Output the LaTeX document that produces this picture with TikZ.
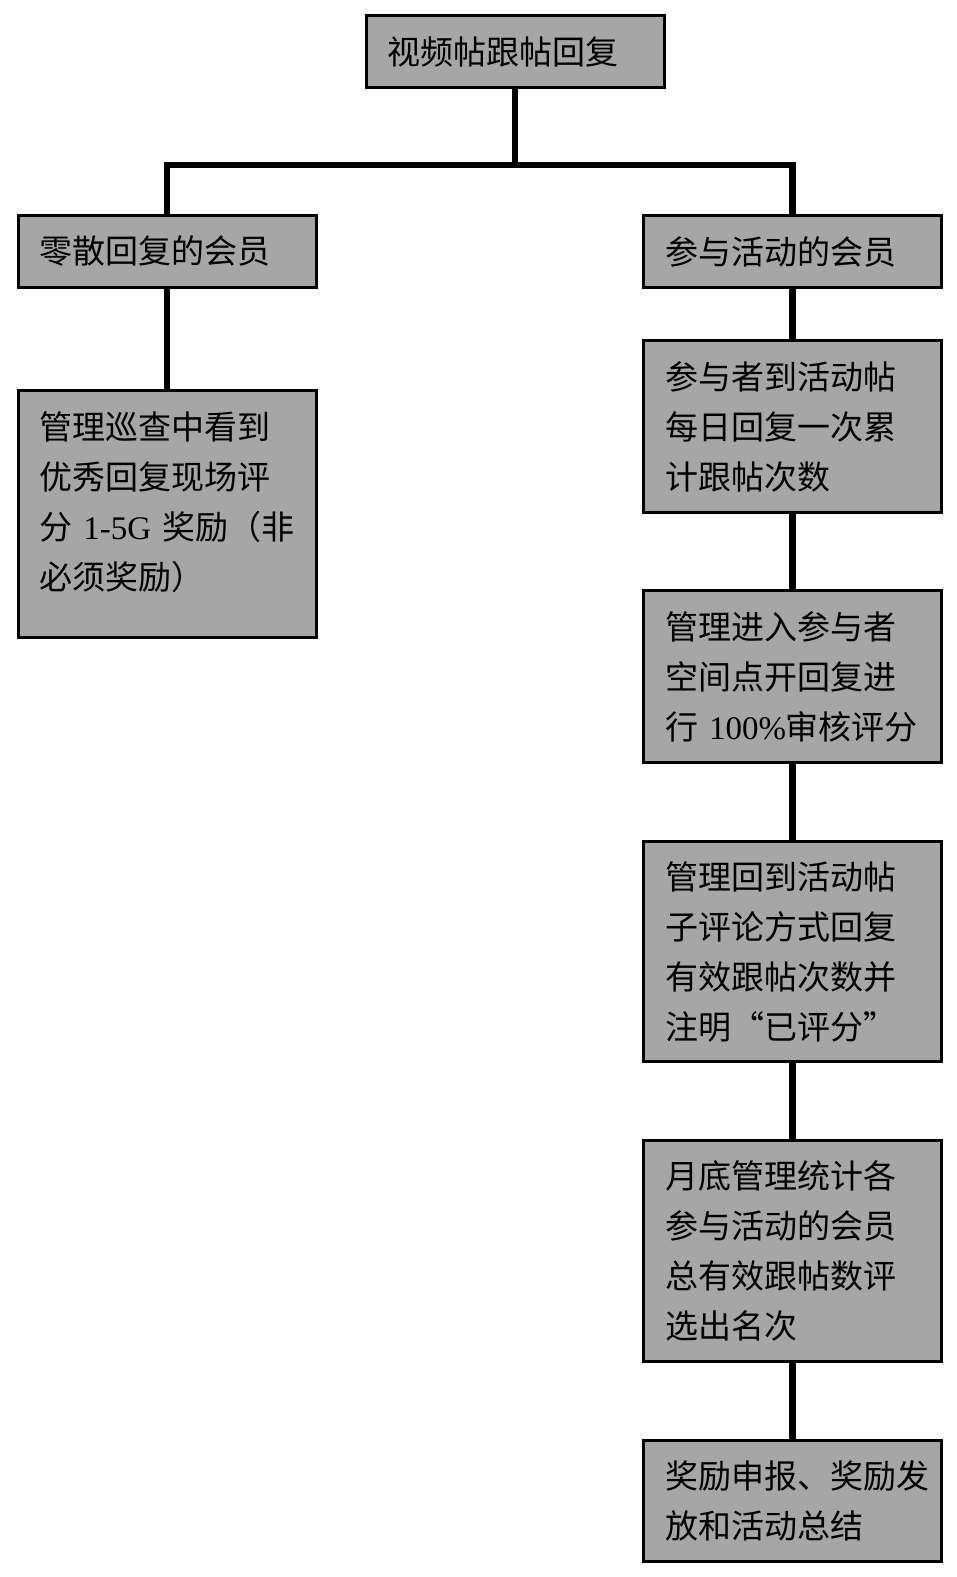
\documentclass[tikz,border=0pt]{standalone}
\usepackage{fontspec}
\setmainfont{Noto Sans CJK SC}
\newfontfamily\lat{Liberation Serif}
\definecolor{boxgray}{RGB}{166,166,166}
\tikzset{
  box/.style={draw=black, line width=3pt, fill=boxgray, rectangle,
    minimum width=298pt, inner xsep=21.5pt, inner ysep=0pt,
    text width=255pt, align=left,
    font=\fontsize{33pt}{50pt}\selectfont},
  link/.style={line width=6.5pt, draw=black}
}
\begin{document}
\begin{tikzpicture}[x=1pt,y=-1pt]
\useasboundingbox (0,0) rectangle (956,1577);
\fill[white] (0,0) rectangle (956,1577);
\node[box, minimum height=72pt] (top) at (515,51.5) {视频帖跟帖回复};
\node[box, minimum height=72pt] (l1) at (167,251.5) {零散回复的会员};
\node[box, minimum height=72pt] (r1) at (792.5,251.5) {参与活动的会员};
\node[box, minimum height=247pt] (l2) at (167,514) {管理巡查中看到\\优秀回复现场评\\分 {\lat 1-5G} 奖励（非\\必须奖励）\\[-24pt]\mbox{}};
\node[box, minimum height=172pt] (r2) at (792.5,426.5) {参与者到活动帖\\每日回复一次累\\计跟帖次数};
\node[box, minimum height=172pt] (r3) at (792.5,676.5) {管理进入参与者\\空间点开回复进\\行 {\lat 100\%}审核评分};
\node[box, minimum height=220pt] (r4) at (792.5,951.5) {管理回到活动帖\\子评论方式回复\\有效跟帖次数并\\注明“已评分”};
\node[box, minimum height=221pt] (r5) at (792.5,1251) {月底管理统计各\\参与活动的会员\\总有效跟帖数评\\选出名次};
\node[box, minimum height=121pt] (r6) at (792.5,1501) {奖励申报、奖励发\\放和活动总结};
\coordinate (j) at (515,165);
\draw[link] (top.south) -- (j);
\draw[link] (l1.north) |- (j) -| (r1.north);
\draw[link] (l1.south) -- (l2.north);
\draw[link] (r1.south) -- (r2.north);
\draw[link] (r2.south) -- (r3.north);
\draw[link] (r3.south) -- (r4.north);
\draw[link] (r4.south) -- (r5.north);
\draw[link] (r5.south) -- (r6.north);
\end{tikzpicture}
\end{document}
